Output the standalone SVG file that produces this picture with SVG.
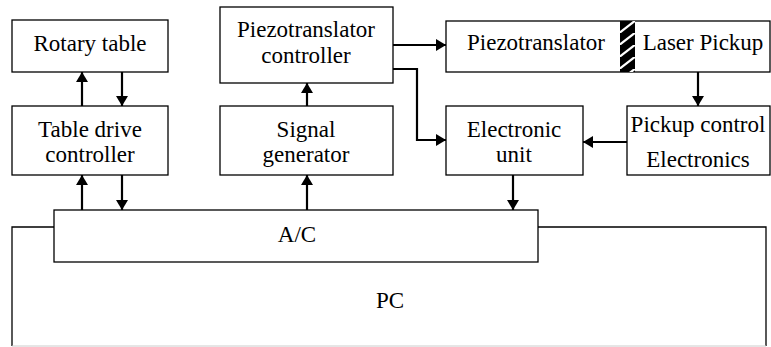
<svg xmlns="http://www.w3.org/2000/svg" width="771" height="347" viewBox="0 0 771 347">
<style>
.box{fill:#fff;stroke:#000;stroke-width:1.3}
.c{fill:none;stroke:#000;stroke-width:2.2}
</style>
<defs>
<marker id="ah" markerUnits="userSpaceOnUse" markerWidth="11" markerHeight="12" refX="10" refY="6" orient="auto">
<path d="M0,0 L10,6 L0,12 Z" fill="#000"/>
</marker>
<pattern id="hatch" patternUnits="userSpaceOnUse" width="15" height="12" patternTransform="translate(620,21)">
<rect width="15" height="12" fill="#000"/>
<path d="M-2,13 L16,-1" stroke="#fff" stroke-width="2.2"/>
</pattern>
</defs>
<g id="pc">
<path d="M12,346 V227 H766 V346" fill="none" stroke="#000" stroke-width="1.3"/>
<line x1="12" y1="346" x2="766" y2="346" stroke="#ccc" stroke-width="1"/>
<text x="390" y="308" font-family="Liberation Serif" font-size="23" text-anchor="middle">PC</text>
</g>
<g id="ac">
<rect class="box" x="54" y="210" width="484" height="52"/>
<text x="297" y="242" font-family="Liberation Serif" font-size="23" text-anchor="middle">A/C</text>
</g>
<g id="rotary">
<rect class="box" x="12" y="20" width="156" height="52"/>
<text x="90" y="51" font-family="Liberation Serif" font-size="23" text-anchor="middle">Rotary table</text>
</g>
<g id="tdc">
<rect class="box" x="12" y="106" width="156" height="69"/>
<text x="90" y="137" font-family="Liberation Serif" font-size="23" text-anchor="middle">Table drive</text>
<text x="90" y="162" font-family="Liberation Serif" font-size="23" text-anchor="middle">controller</text>
</g>
<g id="ptc">
<rect class="box" x="220" y="7" width="173" height="76"/>
<text x="306" y="37" font-family="Liberation Serif" font-size="23" text-anchor="middle">Piezotranslator</text>
<text x="306" y="63" font-family="Liberation Serif" font-size="23" text-anchor="middle">controller</text>
</g>
<g id="sg">
<rect class="box" x="220" y="106" width="173" height="69"/>
<text x="306" y="137" font-family="Liberation Serif" font-size="23" text-anchor="middle">Signal</text>
<text x="306" y="162" font-family="Liberation Serif" font-size="23" text-anchor="middle">generator</text>
</g>
<g id="pzlp">
<rect class="box" x="446" y="21" width="324" height="51"/>
<rect x="620" y="21" width="15" height="51" fill="url(#hatch)"/>
<text x="536" y="50" font-family="Liberation Serif" font-size="23" text-anchor="middle">Piezotranslator</text>
<text x="703" y="50" font-family="Liberation Serif" font-size="23" text-anchor="middle">Laser Pickup</text>
</g>
<g id="eu">
<rect class="box" x="446" y="106" width="137" height="69"/>
<text x="514" y="137" font-family="Liberation Serif" font-size="23" text-anchor="middle">Electronic</text>
<text x="514" y="162" font-family="Liberation Serif" font-size="23" text-anchor="middle">unit</text>
</g>
<g id="pce">
<rect class="box" x="627" y="106" width="143" height="69"/>
<text x="698" y="132" font-family="Liberation Serif" font-size="23" text-anchor="middle">Pickup control</text>
<text x="698" y="167" font-family="Liberation Serif" font-size="23" text-anchor="middle">Electronics</text>
</g>
<g id="connectors">
<line class="c" x1="82" y1="106" x2="82" y2="72" marker-end="url(#ah)"/>
<line class="c" x1="122" y1="72" x2="122" y2="106" marker-end="url(#ah)"/>
<line class="c" x1="82" y1="210" x2="82" y2="175" marker-end="url(#ah)"/>
<line class="c" x1="122" y1="175" x2="122" y2="210" marker-end="url(#ah)"/>
<line class="c" x1="307" y1="106" x2="307" y2="83" marker-end="url(#ah)"/>
<line class="c" x1="307" y1="210" x2="307" y2="175" marker-end="url(#ah)"/>
<line class="c" x1="393" y1="45" x2="446" y2="45" marker-end="url(#ah)"/>
<polyline class="c" points="393,69 417,69 417,140 446,140" marker-end="url(#ah)"/>
<line class="c" x1="698" y1="72" x2="698" y2="106" marker-end="url(#ah)"/>
<line class="c" x1="627" y1="142" x2="583" y2="142" marker-end="url(#ah)"/>
<line class="c" x1="513" y1="175" x2="513" y2="210" marker-end="url(#ah)"/>
</g>
</svg>
